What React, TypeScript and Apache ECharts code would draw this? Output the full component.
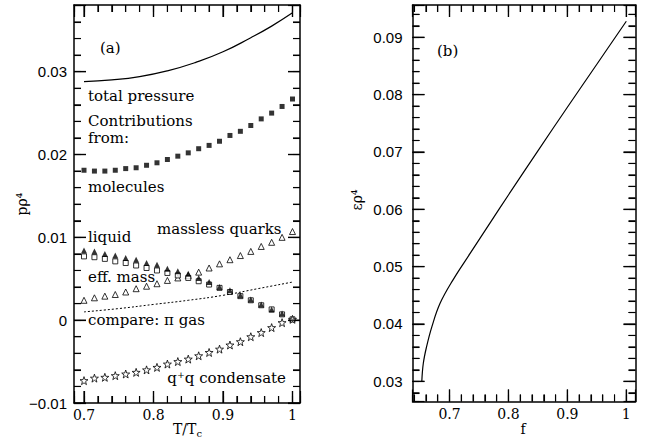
import React, { useEffect, useRef } from 'react';
import * as echarts from 'echarts';

// ---- panel (a) data ----
const tempsA = [0.7, 0.715, 0.73, 0.745, 0.76, 0.775, 0.79, 0.805, 0.82, 0.835, 0.85, 0.865, 0.88, 0.895, 0.91, 0.925, 0.94, 0.955, 0.97, 0.985, 1.0];
const molecules = [0.0181, 0.018, 0.018, 0.0181, 0.0183, 0.0184, 0.0187, 0.019, 0.0194, 0.0198, 0.0202, 0.0207, 0.0211, 0.0216, 0.0223, 0.0228, 0.0235, 0.0243, 0.025, 0.0258, 0.0267];
const liquid = [0.0084, 0.0083, 0.008, 0.0078, 0.0075, 0.0073, 0.0069, 0.0067, 0.0062, 0.0059, 0.0056, 0.0051, 0.0046, 0.004, 0.0036, 0.003, 0.0025, 0.0019, 0.0013, 0.0008, 0.0001];
const effMass = [0.0077, 0.0076, 0.0074, 0.0071, 0.0069, 0.0066, 0.0063, 0.006, 0.0057, 0.0054, 0.0051, 0.0047, 0.0043, 0.0039, 0.0034, 0.0029, 0.0024, 0.0018, 0.0013, 0.0007, 0.0001];
const masslessQuarks = [0.0024, 0.0027, 0.0029, 0.0031, 0.0034, 0.0038, 0.0041, 0.0044, 0.0048, 0.0051, 0.0054, 0.0058, 0.0063, 0.0068, 0.0073, 0.0078, 0.0083, 0.0089, 0.0094, 0.01, 0.0107];
const condensate = [-0.0073, -0.007, -0.0069, -0.0067, -0.0065, -0.0063, -0.006, -0.0057, -0.0053, -0.005, -0.0047, -0.0043, -0.0039, -0.0035, -0.003, -0.0026, -0.002, -0.0015, -0.0009, -0.0003, 0.0001];
const totalT = [0.7, 0.74, 0.78, 0.82, 0.86, 0.9, 0.94, 0.97, 1.0];
const totalP = [0.0288, 0.029, 0.0294, 0.0301, 0.0311, 0.0324, 0.0341, 0.0355, 0.0371];
const piGasT = [0.7, 0.75, 0.8, 0.85, 0.9, 0.95, 1.0];
const piGasP = [0.001, 0.0014, 0.0019, 0.0024, 0.003, 0.0038, 0.0046];

// ---- panel (b) data ----
const fVals = [0.653, 0.6555, 0.661, 0.67, 0.684, 0.706, 0.735, 0.77, 0.8, 0.85, 0.9, 0.95, 1.0];
const epsVals = [0.03, 0.0331, 0.036, 0.0395, 0.0436, 0.0477, 0.0523, 0.0578, 0.0625, 0.0702, 0.0778, 0.0853, 0.0928];

// ---- tick values ----
const aXMajor = [0.7, 0.8, 0.9, 1.0];
const aXMinor = [0.72, 0.74, 0.76, 0.78, 0.82, 0.84, 0.86, 0.88, 0.92, 0.94, 0.96, 0.98];
const aYMajor = [-0.01, 0, 0.01, 0.02, 0.03];
const aYMinor = [-0.008, -0.006, -0.004, -0.002, 0.002, 0.004, 0.006, 0.008, 0.012, 0.014, 0.016, 0.018, 0.022, 0.024, 0.026, 0.028, 0.032, 0.034, 0.036];
const bXMajor = [0.7, 0.8, 0.9, 1.0];
const bXMinor = [0.64, 0.66, 0.68, 0.72, 0.74, 0.76, 0.78, 0.82, 0.84, 0.86, 0.88, 0.92, 0.94, 0.96, 0.98];
const bYMajor = [0.03, 0.04, 0.05, 0.06, 0.07, 0.08, 0.09];
const bYMinor = [0.028, 0.032, 0.034, 0.036, 0.038, 0.042, 0.044, 0.046, 0.048, 0.052, 0.054, 0.056, 0.058, 0.062, 0.064, 0.066, 0.068, 0.072, 0.074, 0.076, 0.078, 0.082, 0.084, 0.086, 0.088, 0.092, 0.094];

const SERIF = '"DejaVu Serif", serif';
const SANS = '"Liberation Sans", Arial, sans-serif';
const STAR = 'path://M0,-10 L2.35,-3.24 L9.51,-3.09 L3.8,1.24 L5.88,8.09 L0,4 L-5.88,8.09 L-3.8,1.24 L-9.51,-3.09 L-2.35,-3.24 Z';
const MAJOR_LEN = 12;
const MINOR_LEN = 7;

const isMult = (v: number, step: number) => Math.abs(v / step - Math.round(v / step)) < 1e-6;
const fmtX = (v: number) => (isMult(v, 0.1) ? String(Number(v.toFixed(2))) : '');
const fmtY = (v: number) => {
  if (!isMult(v, 0.01)) return '';
  if (Math.abs(v) < 1e-9) return '0';
  return (v < 0 ? '\u2212' : '') + Math.abs(v).toFixed(2);
};

function axes(gridIndex: number, position: string, range: number[], major: number, minor: number, label: any) {
  const base = { type: 'value', gridIndex, position, min: range[0], max: range[1], splitLine: { show: false } };
  return [
    {
      ...base,
      minInterval: major,
      maxInterval: major,
      axisLine: { show: true, onZero: false, lineStyle: { color: '#000', width: 1.5 } },
      axisTick: { show: true, inside: true, length: MAJOR_LEN, lineStyle: { color: '#000', width: 1.2 } },
      axisLabel: label ? label : { show: false },
    },
    {
      ...base,
      minInterval: minor,
      maxInterval: minor,
      axisLine: { show: false, onZero: false },
      axisTick: { show: true, inside: true, length: MINOR_LEN, lineStyle: { color: '#000', width: 1.1 } },
      axisLabel: { show: false },
    },
  ];
}

const xLabel = { show: true, color: '#000', fontFamily: SERIF, fontSize: 14, margin: 5, formatter: fmtX };
const yLabelA = { show: true, color: '#000', fontFamily: SANS, fontSize: 15, margin: 7, formatter: fmtY };
const yLabelB = { show: true, color: '#000', fontFamily: SANS, fontSize: 15, margin: 10, formatter: fmtY };

const A_X = [0.6856, 1.0108];
const A_Y = [-0.01, 0.03805];
const B_X = [0.6372, 1.0156];
const B_Y = [0.02648, 0.09563];

// tick items for the custom tick series: [value, side (0 bottom, 1 top, 2 left, 3 right), length]
function tickItems(xMaj: number[], xMin: number[], yMaj: number[], yMin: number[]) {
  const out: number[][] = [];
  xMaj.forEach((v) => { out.push([v, 0, MAJOR_LEN], [v, 1, MAJOR_LEN]); });
  xMin.forEach((v) => { out.push([v, 0, MINOR_LEN], [v, 1, MINOR_LEN]); });
  yMaj.forEach((v) => { out.push([v, 2, MAJOR_LEN], [v, 3, MAJOR_LEN]); });
  yMin.forEach((v) => { out.push([v, 2, MINOR_LEN], [v, 3, MINOR_LEN]); });
  return out;
}

function tickRenderer(X: number[], Y: number[]) {
  return (_params: any, api: any) => {
    const v = api.value(0);
    const side = api.value(1);
    const len = api.value(2);
    const w = len > 10 ? 1.2 : 1.1;
    let p: number[];
    if (side === 0) {
      p = api.coord([v, Y[0]]);
      return { type: 'rect', shape: { x: p[0] - w / 2, y: p[1] - len, width: w, height: len }, style: { fill: '#000' } };
    }
    if (side === 1) {
      p = api.coord([v, Y[1]]);
      return { type: 'rect', shape: { x: p[0] - w / 2, y: p[1], width: w, height: len }, style: { fill: '#000' } };
    }
    if (side === 2) {
      p = api.coord([X[0], v]);
      return { type: 'rect', shape: { x: p[0], y: p[1] - w / 2, width: len, height: w }, style: { fill: '#000' } };
    }
    p = api.coord([X[1], v]);
    return { type: 'rect', shape: { x: p[0] - len, y: p[1] - w / 2, width: len, height: w }, style: { fill: '#000' } };
  };
}

function txt(text: string, x: number, y: number, extra: any = {}) {
  return {
    type: 'text',
    x,
    y,
    z: 100,
    style: { text, fill: '#000', font: `15px ${SERIF}`, align: 'left', verticalAlign: 'middle', ...extra },
  };
}

export default function App() {
  const ref = useRef<HTMLDivElement>(null);
  useEffect(() => {
    if (!ref.current) return;
    const chart = echarts.init(ref.current, null, { renderer: 'svg' });
    const xAxis = [
      ...axes(0, 'bottom', A_X, 0.1, 0.02, xLabel),
      ...axes(0, 'top', A_X, 0.1, 0.02, null),
      ...axes(1, 'bottom', B_X, 0.1, 0.02, xLabel),
      ...axes(1, 'top', B_X, 0.1, 0.02, null),
    ];
    const yAxis = [
      ...axes(0, 'left', A_Y, 0.01, 0.002, yLabelA),
      ...axes(0, 'right', A_Y, 0.01, 0.002, null),
      ...axes(1, 'left', B_Y, 0.01, 0.002, yLabelB),
      ...axes(1, 'right', B_Y, 0.01, 0.002, null),
    ];
    const pairs = (xs: number[], ys: number[]) => xs.map((x, i) => [x, ys[i]]);
    const openStyle = { color: '#fff', borderColor: '#000', borderWidth: 1 };
    chart.setOption({
      animation: false,
      grid: [
        { left: 74, top: 5, width: 226, height: 398 },
        { left: 412.5, top: 5, width: 223, height: 396.5 },
      ],
      xAxis,
      yAxis,
      series: [
        {
          name: 'total pressure', type: 'line', xAxisIndex: 0, yAxisIndex: 0, smooth: 0.5, showSymbol: false,
          data: pairs(totalT, totalP), lineStyle: { color: '#000', width: 1.2 },
        },
        {
          name: 'pi gas', type: 'line', xAxisIndex: 0, yAxisIndex: 0, smooth: 0.5, showSymbol: false,
          data: pairs(piGasT, piGasP), lineStyle: { color: '#000', width: 1, type: [2, 2] },
        },
        {
          name: 'molecules', type: 'scatter', xAxisIndex: 0, yAxisIndex: 0, symbol: 'rect', symbolSize: 5,
          data: pairs(tempsA, molecules), itemStyle: { color: '#000' },
        },
        {
          name: 'massless quarks', type: 'scatter', xAxisIndex: 0, yAxisIndex: 0, symbol: 'triangle', symbolSize: 6,
          data: pairs(tempsA, masslessQuarks), itemStyle: openStyle,
        },
        {
          name: 'eff. mass', type: 'scatter', xAxisIndex: 0, yAxisIndex: 0, symbol: 'rect', symbolSize: 5,
          data: pairs(tempsA, effMass), itemStyle: openStyle,
        },
        {
          name: 'liquid', type: 'scatter', xAxisIndex: 0, yAxisIndex: 0, symbol: 'triangle', symbolSize: 6,
          data: pairs(tempsA, liquid), itemStyle: { color: '#000' },
        },
        {
          name: 'condensate', type: 'scatter', xAxisIndex: 0, yAxisIndex: 0, symbol: STAR, symbolSize: 8,
          data: pairs(tempsA, condensate), itemStyle: openStyle,
        },
        {
          name: 'energy', type: 'line', xAxisIndex: 4, yAxisIndex: 4, smooth: 0.4, showSymbol: false,
          data: pairs(fVals, epsVals), lineStyle: { color: '#000', width: 1.2 },
        },
        {
          name: 'ticks a', type: 'custom', xAxisIndex: 0, yAxisIndex: 0, silent: true, clip: false, z: 10,
          renderItem: tickRenderer(A_X, A_Y), data: tickItems(aXMajor, aXMinor, aYMajor, aYMinor),
        },
        {
          name: 'ticks b', type: 'custom', xAxisIndex: 4, yAxisIndex: 4, silent: true, clip: false, z: 10,
          renderItem: tickRenderer(B_X, B_Y), data: tickItems(bXMajor, bXMinor, bYMajor, bYMinor),
        },
      ],
      graphic: [
        txt('(a)', 100, 47.5),
        txt('total pressure', 88, 96),
        txt('Contributions', 88, 121),
        txt('from:', 88, 137.5),
        txt('molecules', 88, 187),
        txt('liquid', 88, 236.5),
        txt('massless quarks', 157, 229),
        txt('eff. mass', 88, 276.5),
        txt('compare: \u03c0 gas', 88, 320),
        txt('q\u207aq condensate', 286, 377.5, { align: 'right' }),
        txt('(b)', 437, 51),
        txt('T/T', 173, 429, { font: `14px ${SERIF}` }),
        txt('c', 196.5, 433, { font: `10px ${SERIF}` }),
        txt('f', 523, 429, { font: `14px ${SERIF}`, align: 'center' }),
        {
          type: 'text', x: 22, y: 204, rotation: Math.PI / 2, z: 100,
          style: { text: 'p\u03c1\u2074', fill: '#000', font: `14px ${SERIF}`, align: 'center', verticalAlign: 'middle' },
        },
        {
          type: 'text', x: 357, y: 200, rotation: Math.PI / 2, z: 100,
          style: { text: '\u03b5\u03c1\u2074', fill: '#000', font: `14px ${SERIF}`, align: 'center', verticalAlign: 'middle' },
        },
      ],
    });
    return () => chart.dispose();
  }, []);
  return <div ref={ref} style={{ position: 'absolute', left: 0, top: 0, width: 649, height: 443, background: '#fff' }} />;
}
